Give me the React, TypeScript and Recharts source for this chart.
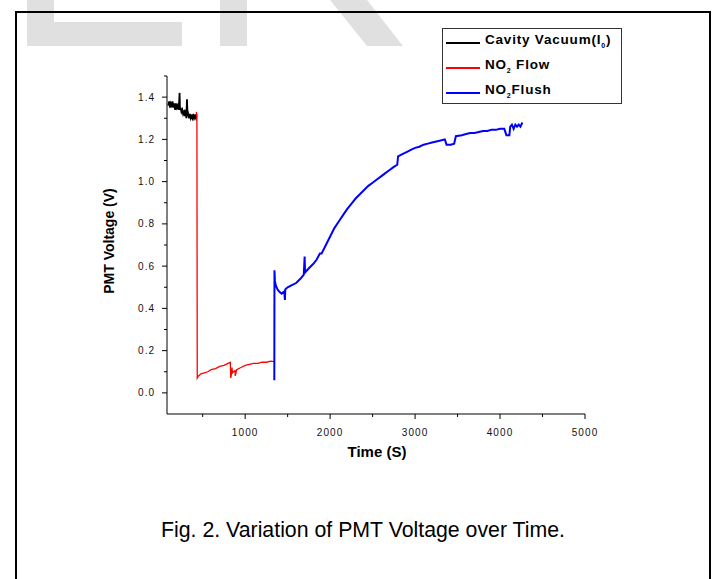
import React from 'react';
import { LineChart, Line, XAxis, YAxis } from 'recharts';

// Cavity vacuum (I0) trace
const vacuumTime = [95, 105, 115, 125, 135, 145, 155, 165, 175, 185, 195, 205, 215, 222, 228, 233, 240, 250, 260, 270, 280, 290, 300, 308, 315, 322, 330, 340, 350, 360, 370, 380, 390, 400, 410, 420, 428];
const vacuumVolt = [1.36, 1.38, 1.35, 1.37, 1.36, 1.38, 1.35, 1.37, 1.34, 1.37, 1.35, 1.36, 1.34, 1.37, 1.42, 1.34, 1.35, 1.33, 1.34, 1.32, 1.33, 1.31, 1.34, 1.30, 1.39, 1.31, 1.32, 1.30, 1.32, 1.30, 1.31, 1.30, 1.32, 1.30, 1.31, 1.30, 1.32];

// NO2 flow trace
const flowTime = [425, 432, 436, 450, 480, 520, 560, 600, 650, 700, 750, 800, 825, 830, 835, 845, 850, 860, 880, 884, 900, 950, 1000, 1050, 1100, 1150, 1200, 1250, 1300, 1340];
const flowVolt = [1.33, 1.31, 0.07, 0.08, 0.09, 0.095, 0.10, 0.11, 0.115, 0.125, 0.13, 0.14, 0.145, 0.07, 0.08, 0.12, 0.095, 0.10, 0.105, 0.08, 0.11, 0.12, 0.13, 0.135, 0.14, 0.14, 0.145, 0.145, 0.15, 0.148];

// NO2 flush trace
const flushTime = [1343, 1345, 1350, 1360, 1380, 1400, 1430, 1460, 1468, 1472, 1500, 1550, 1600, 1650, 1690, 1700, 1705, 1750, 1800, 1840, 1880, 1900, 1950, 2000, 2050, 2100, 2150, 2200, 2250, 2300, 2350, 2400, 2450, 2500, 2550, 2600, 2650, 2700, 2750, 2790, 2800, 2850, 2900, 2950, 3000, 3050, 3100, 3150, 3200, 3250, 3300, 3350, 3370, 3420, 3460, 3480, 3550, 3600, 3650, 3700, 3750, 3800, 3850, 3900, 3950, 4000, 4050, 4075, 4110, 4120, 4140, 4160, 4180, 4200, 4220, 4240, 4263];
const flushVolt = [0.06, 0.58, 0.53, 0.51, 0.49, 0.48, 0.47, 0.48, 0.44, 0.49, 0.50, 0.51, 0.52, 0.54, 0.56, 0.645, 0.57, 0.59, 0.61, 0.63, 0.66, 0.66, 0.70, 0.74, 0.78, 0.81, 0.84, 0.87, 0.895, 0.92, 0.94, 0.96, 0.98, 0.995, 1.01, 1.025, 1.04, 1.055, 1.07, 1.08, 1.12, 1.13, 1.14, 1.15, 1.16, 1.165, 1.175, 1.18, 1.185, 1.19, 1.195, 1.20, 1.175, 1.175, 1.18, 1.215, 1.22, 1.225, 1.23, 1.23, 1.235, 1.24, 1.24, 1.245, 1.245, 1.25, 1.25, 1.22, 1.22, 1.26, 1.27, 1.25, 1.27, 1.26, 1.27, 1.26, 1.28];

const xTicks = [500, 1000, 1500, 2000, 2500, 3000, 3500, 4000, 4500, 5000];
const yTicks = [0, 0.1, 0.2, 0.3, 0.4, 0.5, 0.6, 0.7, 0.8, 0.9, 1.0, 1.1, 1.2, 1.3, 1.4, 1.5];

const seriesNames = ['Cavity Vacuum', 'NO2 Flow', 'NO2 Flush'];

const toPoints = (ts: number[], vs: number[]) => ts.map((t, i) => ({ t, v: vs[i] }));

const vacuumData = toPoints(vacuumTime, vacuumVolt);
const flowData = toPoints(flowTime, flowVolt);
const flushData = toPoints(flushTime, flushVolt);

const tickFont = '"Liberation Sans", Arial, sans-serif';

function YTick(props: any) {
  const { x, y, payload } = props;
  const major = Math.round(payload.value * 10) % 2 === 0;
  return (
    <g>
      <line x1={x - (major ? 5 : 3)} x2={x} y1={y} y2={y} stroke="#000" />
      {major && (
        <text x={x - 12} y={y + 3.5} textAnchor="end" fontSize={10} fill="#111" letterSpacing={1} fontFamily={tickFont}>
          {payload.value.toFixed(1)}
        </text>
      )}
    </g>
  );
}

function XTick(props: any) {
  const { x, y, payload } = props;
  const major = payload.value % 1000 === 0;
  return (
    <g>
      <line x1={x} x2={x} y1={y} y2={y + (major ? 5 : 3)} stroke="#000" />
      {major && (
        <text x={x} y={y + 22} textAnchor="middle" fontSize={10} fill="#111" letterSpacing={1.1} fontFamily={tickFont}>
          {payload.value}
        </text>
      )}
    </g>
  );
}

const wm = '#e0e0e0';

export default function App() {
  return (
    <div style={{ position: 'absolute', left: 0, top: 0, width: 713, height: 579, overflow: 'hidden', background: '#fff', fontFamily: tickFont }}>
      {/* watermark */}
      <svg width={713} height={60} style={{ position: 'absolute', left: 0, top: 0 }}>
        <rect x={27} y={0} width={27} height={46} fill={wm} />
        <rect x={54} y={22} width={128} height={24} fill={wm} />
        <rect x={220} y={0} width={27} height={46} fill={wm} />
        <polygon points="330,0 367,0 403,46 367,46" fill={wm} />
      </svg>
      {/* frame */}
      <div style={{ position: 'absolute', left: 15, top: 11, width: 692, height: 600, border: '2px solid #000' }} />

      <div style={{ position: 'absolute', left: 0, top: 0 }}>
        <LineChart width={713} height={579} margin={{ top: 76, right: 128, bottom: 164, left: 166 }}>
          <XAxis
            dataKey="t"
            type="number"
            domain={[80, 5000]}
            ticks={xTicks}
            interval={0}
            height={1}
            tickSize={0}
            tickMargin={0}
            tick={<XTick />}
            axisLine={{ stroke: '#000' }}
            allowDataOverflow
          />
          <YAxis
            type="number"
            domain={[-0.1, 1.5]}
            ticks={yTicks}
            interval={0}
            width={1}
            tickSize={0}
            tickMargin={0}
            tick={<YTick />}
            axisLine={{ stroke: '#000' }}
            allowDataOverflow
          />
          <Line data={vacuumData} dataKey="v" name={seriesNames[0]} stroke="#000" strokeWidth={1.8} dot={false} type="linear" isAnimationActive={false} />
          <Line data={flowData} dataKey="v" name={seriesNames[1]} stroke="#ff0000" strokeWidth={1.3} dot={false} type="linear" isAnimationActive={false} />
          <Line data={flushData} dataKey="v" name={seriesNames[2]} stroke="#0000ff" strokeWidth={2} dot={false} type="linear" isAnimationActive={false} />
        </LineChart>
      </div>

      {/* axis titles */}
      <div style={{ position: 'absolute', left: 109, top: 241, transform: 'translate(-50%, -50%) rotate(-90deg)', fontWeight: 'bold', fontSize: 14, whiteSpace: 'nowrap' }}>
        PMT Voltage (V)
      </div>
      <div style={{ position: 'absolute', left: 377, top: 451, transform: 'translate(-50%, -50%)', fontWeight: 'bold', fontSize: 15, whiteSpace: 'nowrap' }}>
        Time (S)
      </div>

      {/* legend */}
      <div style={{ position: 'absolute', left: 442, top: 28, width: 178, height: 74, border: '1px solid #333', fontWeight: 'bold', fontSize: 13.5 }}>
        {[
          { color: '#000', label: <>Cavity Vacuum(I<sub style={{ fontSize: 7 }}>0</sub>)</> },
          { color: '#ff0000', label: <>NO<sub style={{ fontSize: 7 }}>2</sub> Flow</> },
          { color: '#0000ff', label: <>NO<sub style={{ fontSize: 7 }}>2</sub>Flush</> },
        ].map((e, i) => (
          <div key={i} style={{ position: 'absolute', left: 0, top: 5 + i * 25, height: 18, display: 'flex', alignItems: 'center', whiteSpace: 'nowrap' }}>
            <span style={{ display: 'inline-block', width: 34, height: 1.4, background: e.color, marginLeft: 3, marginRight: 5 }} />
            <span style={{ lineHeight: '18px', letterSpacing: 0.8 }}>{e.label}</span>
          </div>
        ))}
      </div>

      {/* caption */}
      <div style={{ position: 'absolute', left: 363, top: 530, transform: 'translate(-50%, -50%)', fontSize: 21.3, whiteSpace: 'nowrap' }}>
        Fig. 2. Variation of PMT Voltage over Time.
      </div>
    </div>
  );
}
